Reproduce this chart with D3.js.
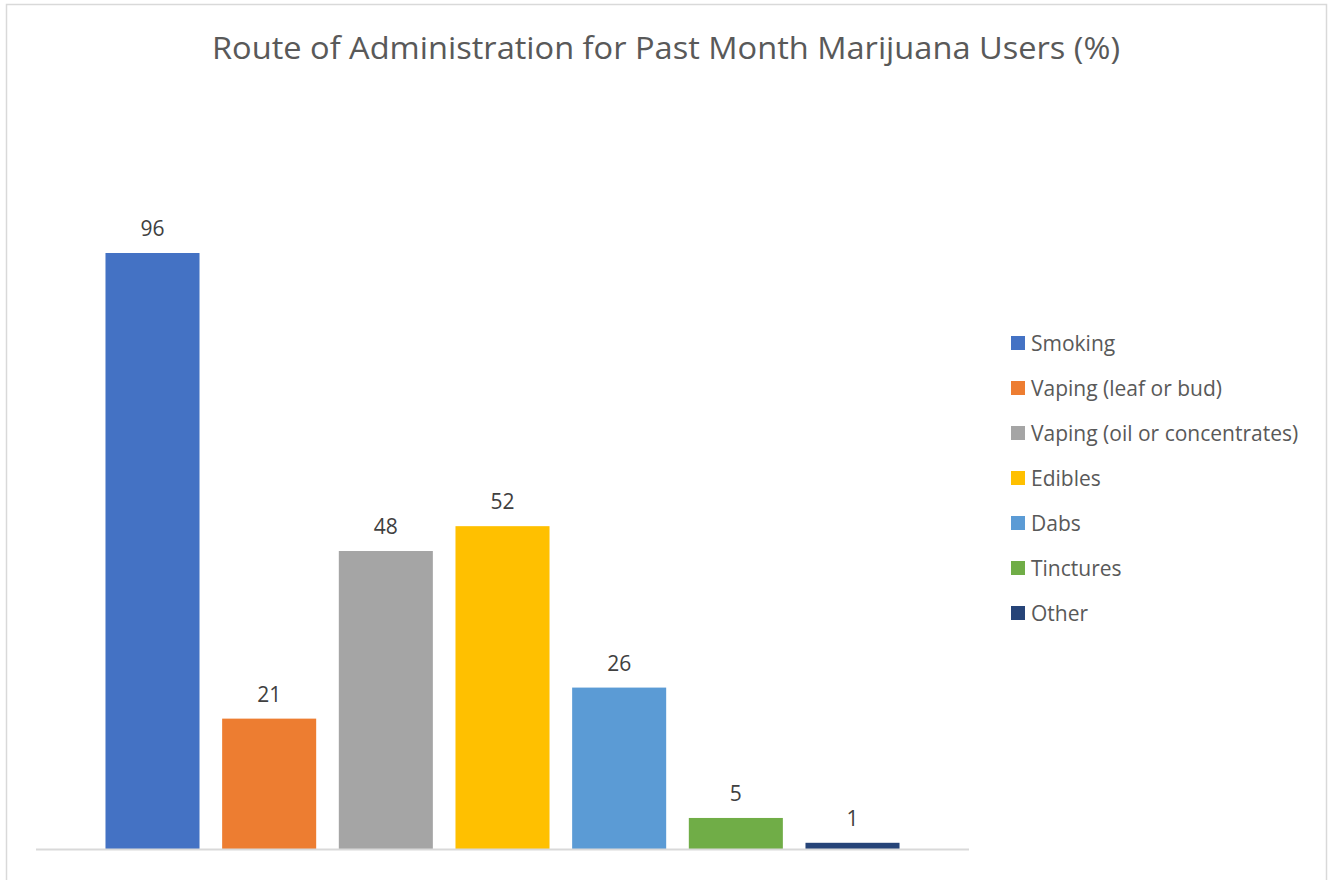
<!DOCTYPE html>
<html>
<head>
<meta charset="utf-8">
<script src="https://cdn.jsdelivr.net/npm/d3@7/dist/d3.min.js"></script>
<style>
  html, body { margin: 0; padding: 0; background: #ffffff; }
  svg { display: block; }
</style>
</head>
<body>
<svg id="chart" width="1333" height="880"></svg>
<script>
// Survey results: share of past-month users by route of administration
const chartTitle = "Route of Administration for Past Month Marijuana Users (%)";
const routes = [
  "Smoking",
  "Vaping (leaf or bud)",
  "Vaping (oil or concentrates)",
  "Edibles",
  "Dabs",
  "Tinctures",
  "Other"
];
const percentages = [96, 21, 48, 52, 26, 5, 1];
const routeColors = ["#4472C4", "#ED7D31", "#A5A5A5", "#FFC000", "#5B9BD5", "#70AD47", "#264478"];

const svg = d3.select("#chart");
const font = "'Open Sans', 'DejaVu Sans', sans-serif";

// chart frame
svg.append("rect")
  .attr("x", 6.5).attr("y", 4.5)
  .attr("width", 1320).attr("height", 890)
  .attr("fill", "#ffffff")
  .attr("stroke", "#d9d9d9").attr("stroke-width", 1.5);

// title
svg.append("text")
  .attr("x", 666).attr("y", 59)
  .attr("text-anchor", "middle")
  .attr("font-family", font)
  .attr("font-size", 31)
  .attr("fill", "#595959")
  .attr("textLength", 908)
  .attr("lengthAdjust", "spacingAndGlyphs")
  .text(chartTitle);

// plot area
const plot = { left: 37, right: 968, top: 104, bottom: 849 };

const x = d3.scaleBand()
  .domain(routes)
  .range([plot.left, plot.right])
  .paddingInner(0.194)
  .paddingOuter(0.587);

const y = d3.scaleLinear()
  .domain([0, 120])
  .range([plot.bottom, plot.top]);

const data = routes.map((r, i) => ({ route: r, value: percentages[i], color: routeColors[i] }));

svg.append("g").selectAll("rect")
  .data(data)
  .join("rect")
  .attr("x", d => x(d.route))
  .attr("y", d => y(d.value))
  .attr("width", x.bandwidth())
  .attr("height", d => y(0) - y(d.value))
  .attr("fill", d => d.color);

// category axis line
const xAxis = d3.axisBottom(x).tickSize(0).tickFormat("");
const axisG = svg.append("g")
  .attr("transform", `translate(0,${y(0)})`)
  .call(xAxis);
axisG.select(".domain")
  .attr("d", `M${plot.left - 1},0.5H${plot.right + 1}`)
  .attr("stroke", "#d9d9d9")
  .attr("stroke-width", 2);

// value labels
svg.append("g").selectAll("text")
  .data(data)
  .join("text")
  .attr("x", d => x(d.route) + x.bandwidth() / 2)
  .attr("y", d => y(d.value) - 17)
  .attr("text-anchor", "middle")
  .attr("font-family", font)
  .attr("font-size", 21)
  .attr("fill", "#404040")
  .text(d => d.value);

// legend
const legend = svg.append("g").attr("transform", "translate(1011,0)");
const rowY = d3.scalePoint().domain(routes).range([343, 613]);
const items = legend.selectAll("g")
  .data(data)
  .join("g")
  .attr("transform", d => `translate(0,${rowY(d.route)})`);
items.append("rect")
  .attr("x", 0).attr("y", -7)
  .attr("width", 14).attr("height", 14)
  .attr("fill", d => d.color);
items.append("text")
  .attr("x", 20).attr("y", 7.5)
  .attr("font-family", font)
  .attr("font-size", 21)
  .attr("fill", "#595959")
  .text(d => d.route);
</script>
</body>
</html>
